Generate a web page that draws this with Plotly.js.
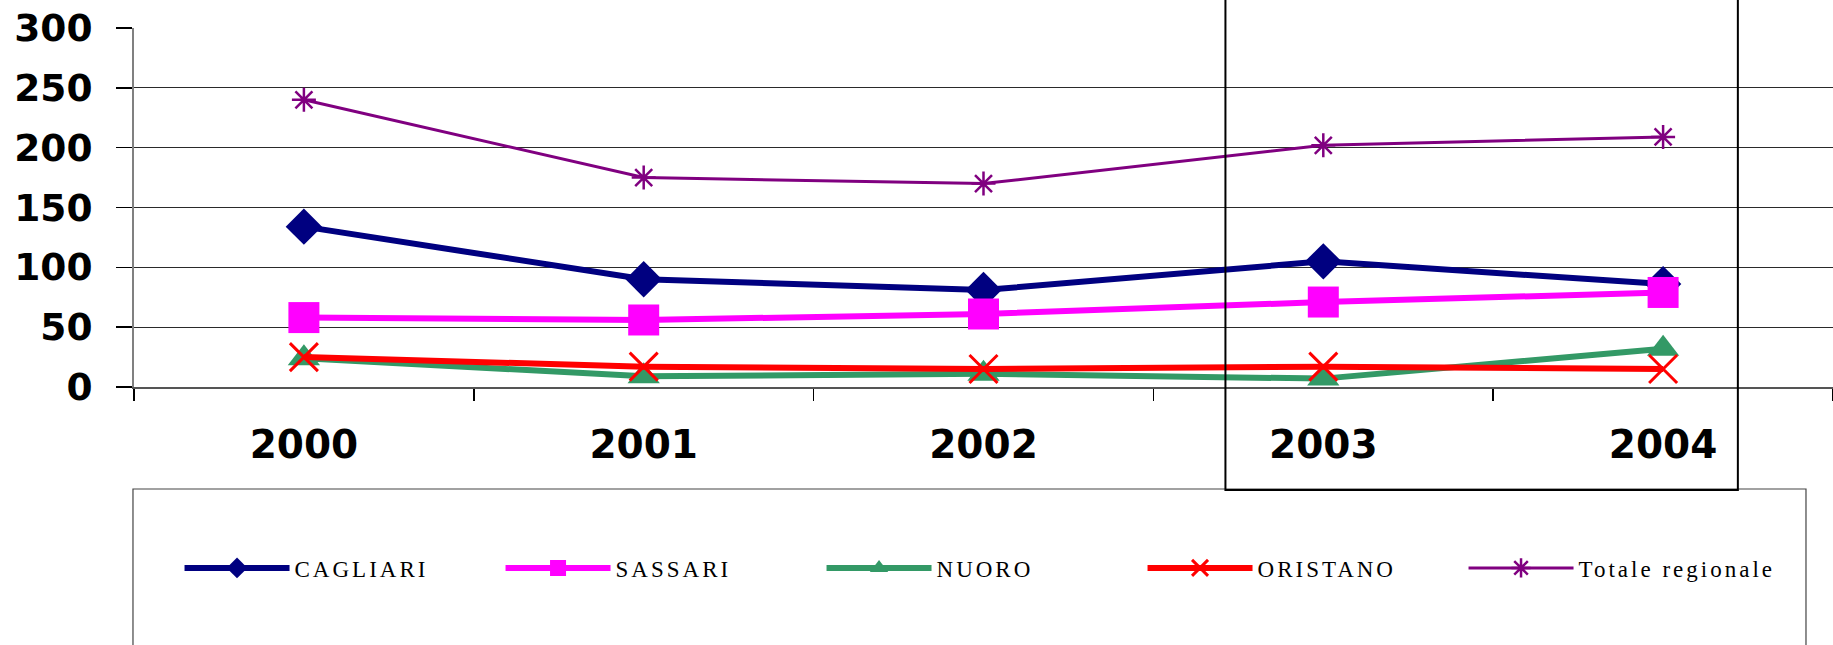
<!DOCTYPE html>
<html>
<head>
<meta charset="utf-8">
<script src="https://cdn.plot.ly/plotly-3.0.1.min.js"></script>
<style>
html,body{margin:0;padding:0;background:#fff;}
#chart{width:1833px;height:645px;}
.legendtext{letter-spacing:3px;}
</style>
</head>
<body>
<div id="chart"></div>
<script>
var years = ['2000', '2001', '2002', '2003', '2004'];
var cagliari = [134, 90, 81, 105, 86];
var sassari = [58, 56, 61, 71, 79];
var nuoro = [24, 9, 11, 7, 32];
var oristano = [25, 17, 15, 17, 15];
var totale = [240, 175, 170, 202, 209];
var yTicks = [0, 50, 100, 150, 200, 250, 300];

function series(name, ys, color, lw, symbol, msize, mline) {
  var m = {symbol: symbol, size: msize, color: color};
  if (mline) m.line = {color: color, width: mline};
  return {type: 'scatter', mode: 'lines+markers', name: name, x: years, y: ys,
          line: {color: color, width: lw}, marker: m};
}

var traces = [
  series('CAGLIARI', cagliari, '#000080', 6, 'diamond', 28),
  series('SASSARI', sassari, '#FF00FF', 6, 'square', 31),
  series('NUORO', nuoro, '#339966', 6, 'triangle-up', 28),
  series('ORISTANO', oristano, '#FF0000', 6, 'x-thin', 28, 3),
  series('Totale regionale', totale, '#800080', 3, 'asterisk', 20, 2.5)
];

var layout = {
  width: 1833, height: 645,
  margin: {l: 134, r: 0, t: 28, b: 258, pad: 0},
  paper_bgcolor: '#fff', plot_bgcolor: '#fff',
  showlegend: true,
  legend: {orientation: 'h', x: 0.0268, xanchor: 'left', y: -0.504, yanchor: 'middle',
           font: {family: 'Liberation Serif', size: 23, color: '#000'},
           itemwidth: 105, entrywidth: 201, entrywidthmode: 'pixels',
           bgcolor: 'rgba(0,0,0,0)', borderwidth: 0, traceorder: 'normal'},
  xaxis: {type: 'category', range: [-0.5, 4.5], fixedrange: true,
          tickson: 'boundaries', ticks: 'outside', ticklen: 12, tickwidth: 1.5, tickcolor: '#000',
          showgrid: false, showline: true, linecolor: '#555', linewidth: 2,
          tickfont: {family: 'DejaVu Sans', size: 39, color: '#000', weight: 'bold'},
          ticklabelstandoff: 22, zeroline: false},
  yaxis: {range: [0, 300], tickvals: yTicks, ticktext: yTicks.map(String), fixedrange: true,
          ticks: 'outside', ticklen: 16, tickwidth: 1.5, tickcolor: '#000',
          showgrid: true, gridcolor: '#2a2a2a', gridwidth: 1.3,
          showline: true, linecolor: '#808080', linewidth: 2,
          tickfont: {family: 'DejaVu Sans', size: 37.5, color: '#000', weight: 'bold'},
          ticklabelstandoff: 16, zeroline: false},
  shapes: [
    {type: 'rect', xref: 'paper', yref: 'paper', x0: -0.0006, x1: 0.9841, y0: -0.2841, y1: -0.85,
     line: {color: '#444', width: 1.2}, fillcolor: 'rgba(0,0,0,0)', layer: 'below'},
    {type: 'rect', xref: 'paper', yref: 'paper', x0: 0.6424, x1: 0.944, y0: -0.2869, y1: 1.1,
     line: {color: '#000', width: 2}, fillcolor: 'rgba(0,0,0,0)', layer: 'above'}
  ]
};

Plotly.newPlot('chart', traces, layout, {displayModeBar: false, staticPlot: true});
</script>
</body>
</html>
